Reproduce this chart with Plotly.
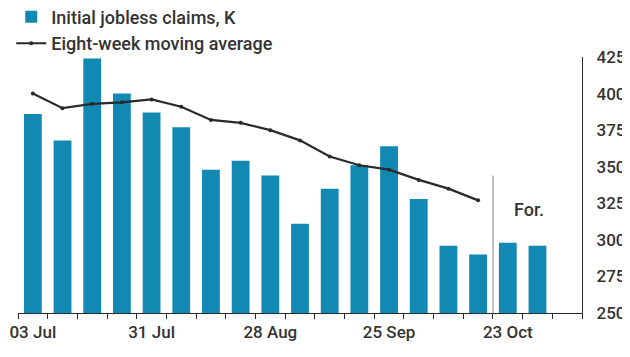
import plotly.graph_objects as go

weeks = ["03 Jul", "10 Jul", "17 Jul", "24 Jul", "31 Jul", "07 Aug", "14 Aug", "21 Aug",
         "28 Aug", "04 Sep", "11 Sep", "18 Sep", "25 Sep", "02 Oct", "09 Oct", "16 Oct",
         "23 Oct", "30 Oct"]
claims = [386, 368, 424, 400, 387, 377, 348, 354, 344, 311, 335, 351, 364, 328, 296, 290, 298, 296]
moving_avg = [400, 390, 393, 394, 396, 391, 382, 380, 375, 368, 357, 351, 348, 341, 335, 327]
label_weeks = ["03 Jul", "31 Jul", "28 Aug", "25 Sep", "23 Oct"]
y_ticks = [250, 275, 300, 325, 350, 375, 400, 425]
forecast_start = "23 Oct"
forecast_label = "For."

FONT = "Roboto"
BAR = "#1189b3"
DARK = "#2a2a2a"
TXT = "#333333"

xs = list(range(len(weeks)))
fc_idx = weeks.index(forecast_start)

fig = go.Figure()
fig.add_trace(go.Bar(x=xs, y=[c - 250 for c in claims], base=250, width=0.6,
                     marker=dict(color=BAR, line=dict(width=0)),
                     name="Initial jobless claims, K"))
fig.add_trace(go.Scatter(x=xs[:len(moving_avg)], y=moving_avg, mode="lines+markers",
                         line=dict(color=DARK, width=2.2),
                         marker=dict(size=4, color=DARK),
                         name="Eight-week moving average"))

fig.add_shape(type="line", xref="x", yref="y", x0=fc_idx - 0.5, x1=fc_idx - 0.5,
              y0=250, y1=344, line=dict(color="#9a9a9a", width=1.2))
fig.add_annotation(x=fc_idx + 0.7, y=321, text=forecast_label, showarrow=False,
                   font=dict(family=FONT, size=18, color=TXT, weight=500))

# page body has an 8px margin: figure is sized to the visible area
fig.update_layout(
    width=622, height=349,
    margin=dict(l=10, r=48, t=49, b=44, autoexpand=False),
    paper_bgcolor="white", plot_bgcolor="white",
    font=dict(family=FONT, size=16, color=TXT),
    showlegend=True,
    legend=dict(x=-0.012, xanchor="left", y=1.228, yanchor="top",
                font=dict(family=FONT, size=18, color=TXT, weight=500),
                bgcolor="rgba(0,0,0,0)", tracegroupgap=0, itemwidth=30),
    bargap=0.4,
)
fig.update_xaxes(
    range=[-0.5, len(weeks) + 0.5],
    tickmode="array",
    tickvals=[weeks.index(w) for w in label_weeks],
    ticktext=label_weeks,
    ticks="outside", ticklen=3, tickcolor="rgba(0,0,0,0)",
    minor=dict(ticks="outside", ticklen=5, tickcolor=DARK, tick0=0.5, dtick=1,
               showgrid=False, tickmode="linear"),
    showline=True, linecolor=DARK, linewidth=1.2,
    showgrid=False, zeroline=False,
    tickfont=dict(family=FONT, size=17, color=TXT, weight=500),
)
fig.update_yaxes(
    side="right", range=[250, 425],
    tickmode="array", tickvals=y_ticks,
    ticks="outside", ticklen=10, tickcolor="rgba(0,0,0,0)",
    showline=True, linecolor=DARK, linewidth=1.2,
    showgrid=False, zeroline=False,
    tickfont=dict(family=FONT, size=17, color=TXT, weight=500),
)

fig.write_html("out.html")
